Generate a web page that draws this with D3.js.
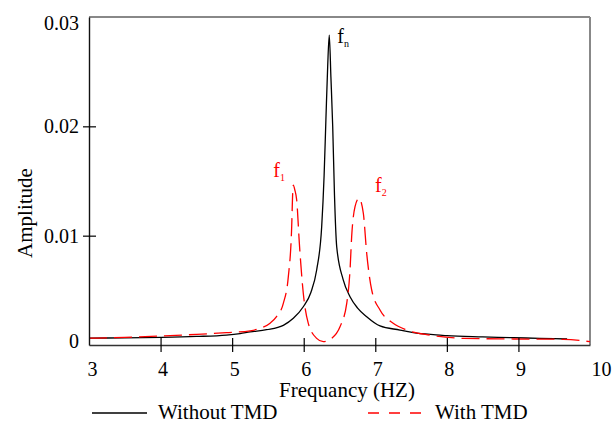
<!DOCTYPE html>
<html>
<head>
<meta charset="utf-8">
<script src="https://cdn.jsdelivr.net/npm/d3@7"></script>
<style>
  html, body { margin: 0; padding: 0; background: #fff; }
  svg { display: block; }
</style>
</head>
<body>
<svg id="chart" width="615" height="426"></svg>
<script>
// ---- Data ----
const freqWithout = [3.0, 3.5, 4.0, 4.5, 4.92, 5.11, 5.25, 5.48, 5.715, 5.855, 5.994, 6.10, 6.181, 6.251, 6.285, 6.31, 6.335, 6.357, 6.38, 6.405, 6.43, 6.461, 6.55, 6.647, 6.75, 6.88, 7.066, 7.345, 7.531, 7.904, 8.0, 8.5, 8.93, 9.3, 9.68];
const ampWithout  = [0.00062, 0.00066, 0.00070, 0.00078, 0.00091, 0.00105, 0.00120, 0.00140, 0.00180, 0.00244, 0.00350, 0.00480, 0.00686, 0.01082, 0.0155, 0.0206, 0.0255, 0.02835, 0.0245, 0.0200, 0.0137, 0.00899, 0.0060, 0.00442, 0.0034, 0.00259, 0.00174, 0.00137, 0.00113, 0.00091, 0.00085, 0.00074, 0.00067, 0.00061, 0.00055];

const freqWith = [3.0, 3.5, 4.0, 4.5, 4.92, 5.25, 5.39, 5.53, 5.62, 5.715, 5.785, 5.832, 5.846, 5.855, 5.875, 5.902, 5.939, 5.994, 6.064, 6.181, 6.274, 6.391, 6.507, 6.601, 6.647, 6.670, 6.717, 6.772, 6.833, 6.880, 6.950, 7.066, 7.25, 7.44, 7.764, 8.23, 8.93, 9.63, 10.0];
const ampWith  = [0.00062, 0.00070, 0.00082, 0.00097, 0.00113, 0.00130, 0.00153, 0.00200, 0.00260, 0.00381, 0.00625, 0.01082, 0.01387, 0.01463, 0.01420, 0.01326, 0.00930, 0.00473, 0.00198, 0.00061, 0.00030, 0.00061, 0.00167, 0.00381, 0.00686, 0.00991, 0.01265, 0.01342, 0.01205, 0.00839, 0.00503, 0.00320, 0.00198, 0.00137, 0.00091, 0.00061, 0.00055, 0.00052, 0.00030];

const xTickValues = [3, 4, 5, 6, 7, 8, 9, 10];
const yTickValues = [0, 0.01, 0.02, 0.03];
const yTickLabels = ["0", "0.01", "0.02", "0.03"];
const seriesNames = ["Without TMD", "With TMD"];
const peakLabels = [
  { base: "f", sub: "n", f: 6.357, a: 0.02835, color: "#000000" },
  { base: "f", sub: "1", f: 5.855, a: 0.01463, color: "#ff0000" },
  { base: "f", sub: "2", f: 6.772, a: 0.01342, color: "#ff0000" }
];

// ---- Layout ----
const FONT = "'Liberation Serif', Tinos, 'Times New Roman', Times, serif";
const svg = d3.select("#chart").attr("font-family", FONT);
const plotL = 89, plotR = 590, plotT = 17, plotB = 345;

const x = d3.scaleLinear().domain([3, 10]).range([plotL, plotR]);
const y = d3.scaleLinear().domain([0, 0.03]).range([plotB, plotT]);

svg.append("rect").attr("width", 615).attr("height", 426).attr("fill", "#fff");

// frame: top & right grey
svg.append("line").attr("x1", plotL).attr("x2", plotR).attr("y1", plotT).attr("y2", plotT)
  .attr("stroke", "#888").attr("stroke-width", 2);
svg.append("line").attr("x1", plotR).attr("x2", plotR).attr("y1", plotT).attr("y2", plotB)
  .attr("stroke", "#888").attr("stroke-width", 2);

// lines
const lineGen = (fs, as) => d3.line()
  .x((d, i) => x(fs[i]))
  .y((d, i) => y(as[i]))
  .curve(d3.curveMonotoneX)(fs);

svg.append("path").attr("d", lineGen(freqWithout, ampWithout))
  .attr("fill", "none").attr("stroke", "#000").attr("stroke-width", 1.3);
svg.append("path").attr("d", lineGen(freqWith, ampWith))
  .attr("fill", "none").attr("stroke", "#ff0000").attr("stroke-width", 1.3)
  .attr("stroke-dasharray", "18,7");

// x axis
const xAxis = svg.append("g").attr("transform", `translate(0,${plotB})`)
  .call(d3.axisBottom(x).tickValues(xTickValues).tickFormat(d3.format("d")).tickSize(0).tickPadding(22))
  .attr("font-family", FONT);
xAxis.select(".domain").attr("stroke", "#333").attr("stroke-width", 1.6);
xAxis.selectAll(".tick text").attr("font-size", 20).attr("fill", "#000")
  .attr("dy", "0.45em")
  .attr("text-anchor", d => d === 10 ? "start" : "middle")
  .attr("dx", d => d === 10 ? 1 : (d === 3 ? 3 : 2));
xAxis.selectAll(".tick").filter(d => d > 3 && d < 10).append("line")
  .attr("y1", -7).attr("y2", 7).attr("stroke", "#000").attr("stroke-width", 1.2);

// y axis
const yAxis = svg.append("g").attr("transform", `translate(${plotL},0)`)
  .call(d3.axisLeft(y).tickValues(yTickValues).tickFormat((d, i) => yTickLabels[i]).tickSize(0).tickPadding(10))
  .attr("font-family", FONT);
yAxis.select(".domain").attr("stroke", "#111").attr("stroke-width", 1.4);
yAxis.selectAll(".tick text").attr("font-size", 20).attr("fill", "#000")
  .attr("dy", d => d === 0 ? "0.1em" : (d === 0.03 ? "0.6em" : "0.32em"));
yAxis.selectAll(".tick").filter(d => d > 0 && d < 0.03).append("line")
  .attr("x1", -6).attr("x2", 7).attr("stroke", "#000").attr("stroke-width", 1.2);

// axis titles
svg.append("text").attr("x", 347).attr("y", 397).attr("text-anchor", "middle")
  .attr("font-size", 21).text("Frequancy (HZ)");
svg.append("text").attr("transform", "translate(32,213) rotate(-90)")
  .attr("text-anchor", "middle").attr("font-size", 21).text("Amplitude");

// peak labels
const offsets = { n: [8, 8], "1": [-20, -8], "2": [16, -6] };
peakLabels.forEach(p => {
  const o = offsets[p.sub];
  const t = svg.append("text").attr("x", x(p.f) + o[0]).attr("y", y(p.a) + o[1])
    .attr("font-size", 20).attr("fill", p.color);
  t.append("tspan").text(p.base);
  t.append("tspan").attr("dy", 4).attr("font-size", 10).text(p.sub);
});

// legend
const legY = 413;
svg.append("line").attr("x1", 92).attr("x2", 147).attr("y1", legY).attr("y2", legY)
  .attr("stroke", "#000").attr("stroke-width", 1.3);
svg.append("text").attr("x", 158).attr("y", legY + 6).attr("font-size", 21).text(seriesNames[0]);
svg.append("line").attr("x1", 368).attr("x2", 424).attr("y1", legY).attr("y2", legY)
  .attr("stroke", "#ff0000").attr("stroke-width", 1.3).attr("stroke-dasharray", "11,10");
svg.append("text").attr("x", 435).attr("y", legY + 6).attr("font-size", 21).text(seriesNames[1]);
</script>
</body>
</html>
